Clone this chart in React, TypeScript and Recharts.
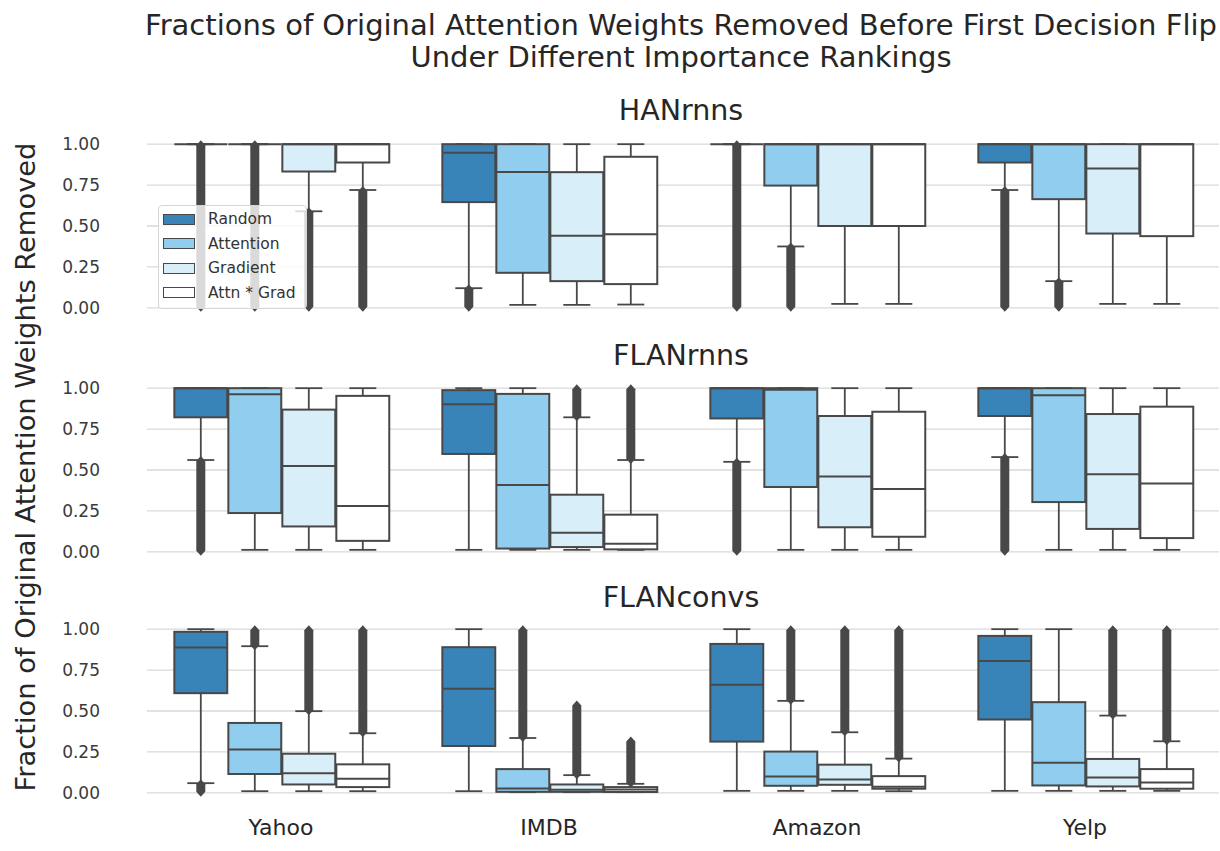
import React from "react";
import { Bar, CartesianGrid, ComposedChart, Legend, XAxis, YAxis } from "recharts";

const CATEGORIES = ["Yahoo", "IMDB", "Amazon", "Yelp"];
const HUES = ["Random", "Attention", "Gradient", "Attn * Grad"];
const HUE_COLORS = ["#3884b8", "#90cdee", "#d8eff9", "#ffffff"];
const Y_TICKS = [0, 0.25, 0.5, 0.75, 1];

// [whiskerLow, q1, median, q3, whiskerHigh, outliersLow, outliersHigh], one per category
type Stat = [number, number, number, number, number, number | null, number | null];

const HAN_RANDOM: Stat[] = [
  [1, 1, 1, 1, 1, 0, 1],
  [0.12, 0.646, 0.947, 1, 1, 0, 0.12],
  [1, 1, 1, 1, 1, 0, 1],
  [0.72, 0.888, 1, 1, 1, 0, 0.72],
];
const HAN_ATTENTION: Stat[] = [
  [1, 1, 1, 1, 1, 0, 1],
  [0.018, 0.214, 0.83, 1, 1, null, null],
  [0.375, 0.747, 1, 1, 1, 0, 0.375],
  [0.163, 0.664, 1, 1, 1, 0, 0.163],
];
const HAN_GRADIENT: Stat[] = [
  [0.59, 0.833, 1, 1, 1, 0, 0.59],
  [0.018, 0.163, 0.44, 0.829, 1, null, null],
  [0.024, 0.5, 1, 1, 1, null, null],
  [0.024, 0.454, 0.851, 1, 1, null, null],
];
const HAN_ATTN_GRAD: Stat[] = [
  [0.72, 0.888, 1, 1, 1, 0, 0.72],
  [0.02, 0.145, 0.45, 0.923, 1, null, null],
  [0.024, 0.5, 1, 1, 1, null, null],
  [0.024, 0.438, 1, 1, 1, null, null],
];

const FLANRNN_RANDOM: Stat[] = [
  [0.561, 0.822, 1, 1, 1, 0, 0.561],
  [0.012, 0.598, 0.902, 0.988, 1, null, null],
  [0.55, 0.815, 1, 1, 1, 0, 0.55],
  [0.579, 0.83, 1, 1, 1, 0, 0.579],
];
const FLANRNN_ATTENTION: Stat[] = [
  [0.012, 0.237, 0.963, 1, 1, null, null],
  [0.012, 0.02, 0.408, 0.965, 1, null, null],
  [0.012, 0.396, 0.99, 1, 1, null, null],
  [0.012, 0.304, 0.957, 1, 1, null, null],
];
const FLANRNN_GRADIENT: Stat[] = [
  [0.012, 0.155, 0.524, 0.869, 1, null, null],
  [0.012, 0.029, 0.116, 0.349, 0.822, 0.822, 1],
  [0.012, 0.15, 0.46, 0.83, 1, null, null],
  [0.012, 0.14, 0.474, 0.842, 1, null, null],
];
const FLANRNN_ATTN_GRAD: Stat[] = [
  [0.012, 0.067, 0.28, 0.953, 1, null, null],
  [0.012, 0.015, 0.049, 0.227, 0.561, 0.561, 1],
  [0.012, 0.092, 0.384, 0.856, 1, null, null],
  [0.012, 0.084, 0.417, 0.887, 1, null, null],
];

const FLANCONV_RANDOM: Stat[] = [
  [0.059, 0.609, 0.888, 0.984, 1, 0, 0.059],
  [0.01, 0.286, 0.636, 0.89, 1, null, null],
  [0.012, 0.313, 0.66, 0.91, 1, null, null],
  [0.012, 0.448, 0.806, 0.959, 1, null, null],
];
const FLANCONV_ATTENTION: Stat[] = [
  [0.01, 0.115, 0.264, 0.427, 0.896, 0.896, 1],
  [0.004, 0.006, 0.027, 0.145, 0.335, 0.335, 1],
  [0.012, 0.043, 0.1, 0.252, 0.562, 0.562, 1],
  [0.012, 0.045, 0.184, 0.554, 1, null, null],
];
const FLANCONV_GRADIENT: Stat[] = [
  [0.01, 0.051, 0.119, 0.239, 0.499, 0.499, 1],
  [0.004, 0.006, 0.018, 0.051, 0.108, 0.108, 0.54],
  [0.012, 0.049, 0.082, 0.172, 0.37, 0.37, 1],
  [0.012, 0.039, 0.094, 0.207, 0.472, 0.472, 1],
];
const FLANCONV_ATTN_GRAD: Stat[] = [
  [0.01, 0.035, 0.086, 0.174, 0.364, 0.364, 1],
  [0.004, 0.005, 0.02, 0.035, 0.055, 0.055, 0.32],
  [0.01, 0.025, 0.037, 0.102, 0.209, 0.209, 1],
  [0.012, 0.025, 0.063, 0.145, 0.315, 0.315, 1],
];

const PANELS = [
  { title: "HANrnns", top: 136, stats: [HAN_RANDOM, HAN_ATTENTION, HAN_GRADIENT, HAN_ATTN_GRAD] },
  { title: "FLANrnns", top: 380, stats: [FLANRNN_RANDOM, FLANRNN_ATTENTION, FLANRNN_GRADIENT, FLANRNN_ATTN_GRAD] },
  { title: "FLANconvs", top: 621, stats: [FLANCONV_RANDOM, FLANCONV_ATTENTION, FLANCONV_GRADIENT, FLANCONV_ATTN_GRAD] },
];

const FONT = "DejaVu Sans";
const LINE = "#484848";
const PLOT_H = 180;
const PAD = 12;
const X_AXIS_H = 55;

function extent(s: Stat): [number, number] {
  const lo = s[5] === null ? s[0] : Math.min(s[0], s[5]);
  const hi = s[6] === null ? s[4] : Math.max(s[4], s[6]);
  return [lo, hi];
}

function BoxShape(props: any) {
  const { x, y, width, height, payload, hue, fill } = props;
  const s: Stat = payload[hue];
  const [lo, hi] = extent(s);
  const py = (v: number) => y + ((hi - v) / (hi - lo)) * height;
  const [wlo, q1, med, q3, whi, oLo, oHi] = s;
  const cx = x + width / 2;
  const half = (width * 0.98) / 2;
  const cap = width / 4;
  let flier = null;
  if (oLo !== null && oHi !== null) {
    const t = py(oHi);
    const b = py(oLo);
    flier = (
      <path
        d={`M${cx},${t - 4} L${cx + 4.5},${t + 1} L${cx + 4.5},${b - 1} L${cx},${b + 4} L${cx - 4.5},${b - 1} L${cx - 4.5},${t + 1} Z`}
        fill={LINE}
      />
    );
  }
  return (
    <g>
      <line x1={cx} x2={cx} y1={py(whi)} y2={py(q3)} stroke={LINE} strokeWidth={1.8} />
      <line x1={cx} x2={cx} y1={py(q1)} y2={py(wlo)} stroke={LINE} strokeWidth={1.8} />
      <line x1={cx - cap} x2={cx + cap} y1={py(whi)} y2={py(whi)} stroke={LINE} strokeWidth={1.8} />
      <line x1={cx - cap} x2={cx + cap} y1={py(wlo)} y2={py(wlo)} stroke={LINE} strokeWidth={1.8} />
      <rect x={cx - half} y={py(q3)} width={half * 2} height={py(q1) - py(q3)} fill={fill} stroke={LINE} strokeWidth={2} />
      <line x1={cx - half} x2={cx + half} y1={py(med)} y2={py(med)} stroke={LINE} strokeWidth={2} />
      {flier}
    </g>
  );
}

function LegendBox({ payload }: any) {
  const items = [...(payload || [])].sort((a: any, b: any) => HUES.indexOf(a.value) - HUES.indexOf(b.value));
  return (
    <div
      style={{
        border: "1px solid #d6d6d6",
        borderRadius: 4,
        background: "rgba(255,255,255,0.8)",
        padding: "1px 0 3px 4px",
        width: 149,
        boxSizing: "border-box",
        fontFamily: FONT,
        fontSize: 15.5,
        color: "#333",
      }}
    >
      {items.map((p: any) => (
        <div key={p.value} style={{ display: "flex", alignItems: "center", height: 24.5 }}>
          <span
            style={{
              display: "inline-block",
              width: 32,
              height: 11,
              background: HUE_COLORS[HUES.indexOf(p.value)],
              border: `1.5px solid ${LINE}`,
              boxSizing: "border-box",
              marginRight: 13,
            }}
          />
          {p.value}
        </div>
      ))}
    </div>
  );
}

function Panel({ index }: { index: number }) {
  const panel = PANELS[index];
  const last = index === PANELS.length - 1;
  const rows = CATEGORIES.map((name, i) => {
    const row: any = { name };
    HUES.forEach((h, j) => {
      row[h] = panel.stats[j][i];
    });
    return row;
  });
  return (
    <div style={{ position: "absolute", left: 0, top: panel.top - PAD }}>
      <ComposedChart
        width={1220}
        height={PLOT_H + 2 * PAD + (last ? X_AXIS_H : 0)}
        data={rows}
        margin={{ top: PAD, right: 1, bottom: PAD, left: 0 }}
        barCategoryGap="10%"
        barGap={0}
      >
        <CartesianGrid horizontal vertical={false} syncWithTicks stroke="#d9d9d9" strokeWidth={1.3} />
        <XAxis
          dataKey="name"
          hide={!last}
          height={X_AXIS_H}
          axisLine={false}
          tickLine={false}
          tickSize={0}
          tickMargin={30 - PAD}
          tick={{ fill: "#262626", fontSize: 22, fontFamily: FONT }}
        />
        <YAxis
          width={147}
          domain={[-0.05, 1.05]}
          ticks={Y_TICKS}
          interval={0}
          axisLine={false}
          tickLine={false}
          tickSize={0}
          tickMargin={47}
          tickFormatter={(v: number) => v.toFixed(2)}
          tick={{ fill: "#3a3a3a", fontSize: 17, fontFamily: FONT }}
        />
        {HUES.map((hue, j) => (
          <Bar
            key={hue}
            name={hue}
            dataKey={(row: any) => extent(row[hue])}
            fill={HUE_COLORS[j]}
            isAnimationActive={false}
            shape={(p: any) => <BoxShape {...p} hue={hue} fill={HUE_COLORS[j]} />}
          />
        ))}
        {index === 0 && (
          <Legend
            layout="vertical"
            align="center"
            verticalAlign="middle"
            wrapperStyle={{ left: 158, top: 205 - (panel.top - PAD), width: 149 }}
            content={<LegendBox />}
          />
        )}
      </ComposedChart>
    </div>
  );
}

export default function App() {
  return (
    <div style={{ position: "absolute", left: 0, top: 0, width: 1220, height: 851, background: "#fff" }}>
      {PANELS.map((_, i) => (
        <Panel key={i} index={i} />
      ))}
      <svg
        width={1220}
        height={851}
        style={{ position: "absolute", left: 0, top: 0, pointerEvents: "none" }}
        fontFamily={FONT}
        fill="#262626"
      >
        <text x={681} y={35} fontSize={29} textAnchor="middle">
          Fractions of Original Attention Weights Removed Before First Decision Flip
        </text>
        <text x={681} y={67} fontSize={29} textAnchor="middle">
          Under Different Importance Rankings
        </text>
        <text x={681} y={120} fontSize={28.5} textAnchor="middle">{PANELS[0].title}</text>
        <text x={681} y={365} fontSize={28.5} textAnchor="middle">{PANELS[1].title}</text>
        <text x={681} y={607} fontSize={28.5} textAnchor="middle">{PANELS[2].title}</text>
        <text transform="translate(35, 467) rotate(-90)" fontSize={27.3} textAnchor="middle">
          Fraction of Original Attention Weights Removed
        </text>
      </svg>
    </div>
  );
}
